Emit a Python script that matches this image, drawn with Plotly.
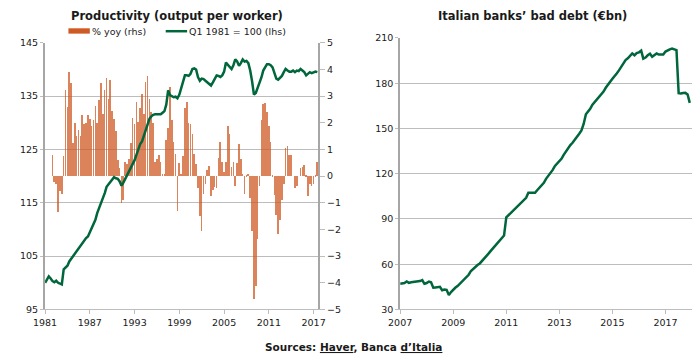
import plotly.graph_objects as go
import pandas as pd

# Productivity index, Q1 1981 = 100 (lhs), quarterly from 1981Q1
prod_index = [
    100.0, 100.5, 101.2, 100.8,   # 1981
    100.3, 100.1, 100.4, 100.0,   # 1982
    99.8, 99.7, 102.5, 102.8,     # 1983
    103.2, 104.0, 104.5, 104.8,   # 1984
    105.3, 105.8, 106.4, 106.9,   # 1985
    107.3, 107.8, 108.4, 108.7,   # 1986
    109.5, 110.2, 111.0, 111.8,   # 1987
    113.1, 114.0, 115.0, 115.8,   # 1988
    116.8, 118.0, 118.5, 118.9,   # 1989
    119.4, 119.8, 119.6, 119.5,   # 1990
    119.0, 118.2, 118.8, 119.5,   # 1991
    120.1, 120.6, 121.4, 122.0,   # 1992
    123.0, 124.0, 125.0, 126.0,   # 1993
    126.5, 127.5, 128.5, 129.5,   # 1994
    130.8, 131.2, 131.5, 131.6,   # 1995
    131.6, 131.7, 131.6, 131.9,   # 1996
    132.2, 133.4, 136.1, 135.2,   # 1997
    135.0, 134.8, 134.9, 134.6,   # 1998
    135.3, 136.5, 137.8, 138.9,   # 1999
    138.9, 138.8, 139.2, 140.1,   # 2000
    140.2, 140.0, 138.6, 137.9,   # 2001
    138.3, 138.2, 137.9, 137.6,   # 2002
    137.2, 137.0, 137.6, 138.3,   # 2003
    138.9, 138.8, 138.6, 138.9,   # 2004
    139.6, 141.3, 140.9, 140.4,   # 2005
    140.1, 140.8, 141.9, 141.5,   # 2006
    140.7, 141.2, 141.9, 141.5,   # 2007
    141.6, 141.2, 139.8, 137.8,   # 2008
    135.3, 135.6, 136.5, 137.6,   # 2009
    138.5, 139.8, 140.5, 141.0,   # 2010
    141.0, 140.8, 140.4, 139.5,   # 2011
    138.3, 138.1, 138.5, 138.8,   # 2012
    139.5, 140.1, 139.8, 139.6,   # 2013
    139.6, 139.8, 139.5, 139.8,   # 2014
    139.7, 140.1, 139.8, 139.5,   # 2015
    138.9, 139.2, 139.5, 139.3,   # 2016
    139.5, 139.6, 139.5,          # 2017
]

# Productivity % yoy (rhs), quarterly from 1982Q1
prod_yoy = [
    0.8, -0.2, -0.3, -1.35,       # 1982
    -0.55, -0.65, 0.75, 3.25,     # 1983
    2.6, 3.9, 3.5, 1.25,          # 1984
    2.0, 1.5, 1.75, 1.5,          # 1985
    2.3, 1.95, 2.0, 2.3,          # 1986
    2.15, 1.9, 2.1, 2.65,         # 1987
    2.0, 2.85, 3.5, 2.35,         # 1988
    3.25, 3.7, 2.9, 3.6,          # 1989
    2.45, 2.15, 1.7, 0.6,         # 1990
    0.3, -1.0, -0.9, 0.55,        # 1991
    0.45, 0.65, 1.25, 2.2,        # 1992
    1.95, 2.8, 2.05, 2.55,        # 1993
    3.1, 2.35, 3.55, 3.75,        # 1994
    2.9, 2.4, 2.0, 0.55,          # 1995
    0.65, 0.8, 0.55, 0.1,         # 1996
    0.1, 1.35, 1.8, 3.35,         # 1997
    2.1, 1.3, 0.85, -1.3,         # 1998
    0.5, 0.1, 0.75, 2.55,         # 1999
    2.8, 2.0, 1.95, 1.6,          # 2000
    0.85, 0.45, -0.45, -1.5,      # 2001
    -2.05, -0.65, -0.3, 0.25,     # 2002
    0.4, -0.75, -0.5, -0.4,       # 2003
    -0.45, 0.7, 1.3, 0.55,        # 2004
    0.15, 0.55, 1.9, 1.6,         # 2005
    0.35, 0.55, -0.35, 0.5,       # 2006
    1.2, 0.65, 0.1, -0.65,        # 2007
    0.05, 0.08, -0.8, -2.05,      # 2008
    -4.6, -4.1, -2.35, -0.35,     # 2009
    2.1, 2.7, 2.75, 2.4,          # 2010
    1.9, 1.3, 0.05, -0.7,         # 2011
    -1.45, -2.15, -1.65, -0.9,    # 2012
    -0.3, 1.05, 1.15, 0.8,        # 2013
    0.8, 0.0, -0.45, -0.38,       # 2014
    0.0, 0.33, 0.35, 0.42,        # 2015
    0.06, -0.75, -0.3, -0.35,     # 2016
    -0.3, 0.05, 0.55,             # 2017
]

# Italian banks' bad debt (EUR bn), monthly from Jan 2007
bad_debt = [
    47.0, 47.3, 47.5, 48.5, 47.6, 48.0, 48.2, 48.3, 48.5, 48.8, 49.5, 47.0,        # 2007
    47.5, 48.5, 48.0, 44.4, 44.6, 44.8, 45.0, 42.7, 43.2, 43.0, 39.5, 41.5,        # 2008
    43.2, 44.5, 45.5, 47.0, 48.5, 50.0, 51.3, 53.0, 55.5, 57.0, 58.5, 59.5,        # 2009
    60.5, 62.0, 63.5, 65.5, 67.0, 68.8, 70.5, 72.0, 73.5, 75.0, 77.0, 79.0,        # 2010
    91.0, 92.5, 94.1, 95.5, 97.0, 98.5, 99.5, 101.0, 102.5, 104.0, 107.4, 107.4,   # 2011
    107.4, 107.4, 109.0, 110.6, 112.3, 114.0, 116.6, 118.5, 120.0, 122.5, 125.2, 127.0,  # 2012
    128.4, 130.0, 132.5, 134.8, 137.0, 139.0, 140.5, 142.3, 144.5, 146.5, 148.7, 153.0,  # 2013
    159.4, 161.0, 163.0, 165.8, 167.5, 169.0, 170.5, 172.3, 174.5, 177.0, 178.7, 181.0,  # 2014
    183.0, 184.5, 186.5, 188.5, 190.5, 193.0, 195.4, 196.5, 198.0, 199.7, 198.5, 200.0,  # 2015
    200.5, 201.6, 196.3, 197.0, 198.5, 199.5, 197.5, 198.5, 199.7, 199.0, 198.8, 199.0,  # 2016
    201.0, 202.0, 202.5, 203.0, 202.5, 202.0, 173.4, 173.2, 173.5, 173.6, 172.5, 167.0,  # 2017
]

left_title = "Productivity (output per worker)"
right_title = "Italian banks\u2019 bad debt (\u20acbn)"
yoy_name = "% yoy (rhs)"
idx_name = "Q1 1981 = 100 (lhs)"
source_text = "Sources: <u>Haver</u>, Banca <u>d\u2019Italia</u>"

idx_dates = pd.period_range("1981Q1", periods=len(prod_index), freq="Q").to_timestamp()
yoy_dates = pd.period_range("1982Q1", periods=len(prod_yoy), freq="Q").to_timestamp()
debt_dates = pd.date_range("2007-01-01", periods=len(bad_debt), freq="MS")

FONT = "DejaVu Sans"
GREEN = "#00663C"
ORANGE = "#CF5A24"
GRID = "#BDBDBD"
AXIS = "#A6A6A6"
TXT = "#1a1a1a"

fig = go.Figure()
fig.add_trace(go.Bar(
    x=yoy_dates, y=prod_yoy, name=yoy_name, xaxis="x", yaxis="y",
    marker=dict(color=ORANGE, line=dict(width=0)), opacity=0.75,
    width=30 * 86400000, showlegend=False,
))
fig.add_trace(go.Scatter(
    x=idx_dates, y=prod_index, name=idx_name, xaxis="x", yaxis="y2",
    mode="lines", line=dict(color=GREEN, width=2.5), showlegend=False,
))
fig.add_trace(go.Scatter(
    x=debt_dates, y=bad_debt, name="bad debt", xaxis="x2", yaxis="y3",
    mode="lines", line=dict(color=GREEN, width=2.5), showlegend=False,
))

tick_font = dict(family=FONT, size=9.5, color=TXT)

fig.update_layout(
    width=700, height=360,
    margin=dict(l=0, r=0, t=0, b=0),
    paper_bgcolor="white", plot_bgcolor="white",
    font=dict(family=FONT, size=9.5, color=TXT),
    xaxis=dict(domain=[34 / 700, 315 / 700], type="date",
               range=["1981-01-01", "2017-08-25"],
               tick0="1981-01-01", dtick="M72", tickformat="%Y",
               showgrid=False, showline=True, linecolor=GRID, linewidth=1,
               ticks="outside", ticklen=4, tickcolor=GRID, tickfont=tick_font,
               anchor="y"),
    yaxis=dict(domain=[47 / 360, 322 / 360], range=[-5, 5], dtick=1, side="right",
               showgrid=False, zeroline=False, showline=True, linecolor=AXIS, linewidth=1.5,
               ticks="outside", ticklen=5, tickcolor=GRID, tickfont=tick_font,
               anchor="x"),
    yaxis2=dict(domain=[47 / 360, 322 / 360], range=[95, 145], tick0=95, dtick=10,
                side="left", overlaying="y", showgrid=True, gridcolor=GRID, gridwidth=1,
                zeroline=False, showline=True, linecolor=AXIS, linewidth=2,
                ticks="outside", ticklen=3, tickcolor=GRID, tickfont=tick_font,
                anchor="x"),
    xaxis2=dict(domain=[399 / 700, 699 / 700], type="date",
                range=["2007-01-01", "2018-01-01"],
                tick0="2007-01-01", dtick="M24", tickformat="%Y",
                showgrid=False, showline=True, linecolor=GRID, linewidth=1,
                ticks="outside", ticklen=4, tickcolor=GRID, tickfont=tick_font,
                anchor="y3"),
    yaxis3=dict(domain=[47 / 360, 327 / 360], range=[30, 210], tick0=30, dtick=30,
                showgrid=True, gridcolor=GRID, gridwidth=1, zeroline=False,
                showline=True, linecolor=AXIS, linewidth=2,
                ticks="outside", ticklen=3, tickcolor=GRID, tickfont=tick_font,
                anchor="x2"),
    bargap=0,
)

# Legend key above the left panel
fig.add_shape(type="rect", xref="paper", yref="paper",
              x0=58 / 700, x1=80 / 700, y0=1 - 28.5 / 360, y1=1 - 23 / 360,
              fillcolor=ORANGE, line=dict(width=0))
fig.add_shape(type="line", xref="paper", yref="paper",
              x0=158 / 700, x1=180 / 700, y0=1 - 26 / 360, y1=1 - 26 / 360,
              line=dict(color=GREEN, width=2.5))
fig.add_annotation(text=yoy_name, xref="paper", yref="paper",
                   x=80 / 700, y=1 - 26 / 360, xanchor="left", yanchor="middle",
                   showarrow=False, font=dict(family=FONT, size=9.5, color=TXT))
fig.add_annotation(text=idx_name, xref="paper", yref="paper",
                   x=180 / 700, y=1 - 26 / 360, xanchor="left", yanchor="middle",
                   showarrow=False, font=dict(family=FONT, size=9.5, color=TXT))

fig.add_annotation(text="<b>" + left_title + "</b>", xref="paper", yref="paper",
                   x=170 / 700, y=1 - 10 / 360, xanchor="center", yanchor="middle",
                   showarrow=False, font=dict(family=FONT, size=11.5, color=TXT))
fig.add_annotation(text="<b>" + right_title + "</b>", xref="paper", yref="paper",
                   x=535 / 700, y=1 - 10 / 360, xanchor="center", yanchor="middle",
                   showarrow=False, font=dict(family=FONT, size=11.5, color=TXT))
fig.add_annotation(text="<b>" + source_text + "</b>", xref="paper", yref="paper",
                   x=351 / 700, y=1 - 352 / 360, xanchor="center", yanchor="middle",
                   showarrow=False, font=dict(family=FONT, size=10.5, color=TXT))

fig.write_html(
    "out.html",
    config={"displayModeBar": False},
    post_script="document.body.style.margin='0';document.body.style.overflow='hidden';",
)
